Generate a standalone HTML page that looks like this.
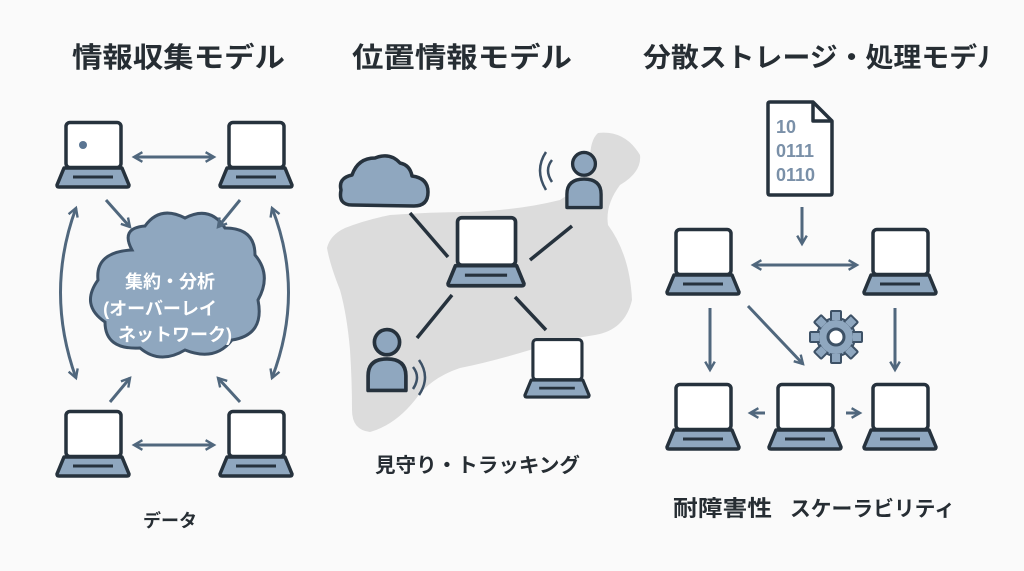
<!DOCTYPE html>
<html><head><meta charset="utf-8"><style>
html,body{margin:0;padding:0;background:#fafafa;}
svg{display:block;}
text{font-family:"Liberation Sans","Noto Sans CJK JP",sans-serif;}
</style></head><body>
<svg width="1024" height="571" viewBox="0 0 1024 571" xmlns="http://www.w3.org/2000/svg">
<defs>
<symbol id="lap" viewBox="0 0 74 68" overflow="visible">
<rect x="10" y="1.5" width="55" height="45" rx="4" fill="#fff" stroke="#26323d" stroke-width="3.5"/>
<path d="M8 47 L66 47 L73 64 Q73 66 71 66 L3 66 Q1 66 1 64 Z" fill="#8fa7bf" stroke="#26323d" stroke-width="3.5" stroke-linejoin="round"/>
<line x1="17" y1="56" x2="57" y2="56" stroke="#26323d" stroke-width="3"/>
</symbol>
<marker id="ah" viewBox="0 0 10 10" refX="8" refY="5" markerWidth="4" markerHeight="4" orient="auto-start-reverse">
<path d="M1 1 L8 5 L1 9" fill="none" stroke="#50677d" stroke-width="2"/>
</marker>
<symbol id="person" viewBox="0 0 40 62" overflow="visible">
<circle cx="20" cy="14" r="12" fill="#8fa7bf" stroke="#26323d" stroke-width="3.5"/>
<path d="M2 60 L2 46 Q2 30 20 30 Q38 30 38 46 L38 60 Z" fill="#8fa7bf" stroke="#26323d" stroke-width="3.5" stroke-linejoin="round"/>
</symbol>
</defs>
<rect width="1024" height="571" fill="#fafafa"/>

<!-- titles -->
<text x="72" y="67" font-size="28" font-weight="bold" fill="#262d33" textLength="213" lengthAdjust="spacingAndGlyphs">情報収集モデル</text>
<text x="352" y="67" font-size="28" font-weight="bold" fill="#262d33" textLength="220" lengthAdjust="spacingAndGlyphs">位置情報モデル</text>
<text x="643" y="67" font-size="27" font-weight="bold" fill="#262d33" textLength="362" lengthAdjust="spacingAndGlyphs">分散ストレージ・処理モデル</text>
<rect x="990" y="30" width="34" height="50" fill="#fafafa"/>

<!-- LEFT -->
<path d="M132 250 Q120 228 145 226 Q160 205 185 218 Q210 205 225 228 Q255 228 255 255 Q272 275 258 300 Q265 335 232 340 Q215 362 185 350 Q160 365 140 348 Q105 350 105 322 Q80 305 98 280 Q95 252 132 250 Z" fill="#8fa7bf" stroke="#3d5166" stroke-width="3"/>
<text x="170" y="288" font-size="18" font-weight="bold" fill="#fff" text-anchor="middle">集約・分析</text>
<text x="160" y="315" font-size="18" font-weight="bold" fill="#fff" text-anchor="middle">(オーバーレイ</text>
<text x="175" y="341" font-size="18" font-weight="bold" fill="#fff" text-anchor="middle">ネットワーク)</text>

<use href="#lap" x="56" y="121" width="74" height="68"/>
<circle cx="83" cy="145" r="4" fill="#5a7592"/>
<use href="#lap" x="219" y="121" width="74" height="68"/>
<use href="#lap" x="56" y="410" width="74" height="68"/>
<use href="#lap" x="219" y="410" width="74" height="68"/>
<g stroke="#50677d" stroke-width="3" fill="none" marker-end="url(#ah)" marker-start="url(#ah)">
<line x1="134" y1="157" x2="214" y2="157"/>
<line x1="134" y1="445" x2="214" y2="445"/>
<path d="M76 208 Q45 292 76 378"/>
<path d="M272 208 Q305 292 272 378"/>
</g>
<g stroke="#50677d" stroke-width="3" fill="none" marker-end="url(#ah)">
<line x1="106" y1="200" x2="130" y2="227"/>
<line x1="240" y1="200" x2="218" y2="227"/>
<line x1="110" y1="402" x2="130" y2="378"/>
<line x1="240" y1="402" x2="218" y2="378"/>
</g>
<text x="170" y="527" font-size="18" font-weight="bold" fill="#262d33" text-anchor="middle">データ</text>

<!-- MIDDLE -->
<path d="M598 133 Q625 130 640 155 Q642 172 620 185 Q605 205 608 225 Q630 255 632 300 Q625 330 595 335 Q560 340 530 350 Q490 362 460 368 Q430 378 415 400 Q395 425 370 432 Q352 430 352 410 Q352 380 350 350 Q347 315 340 290 Q330 265 327 248 Q330 235 345 228 Q365 220 390 215 Q430 212 470 212 Q520 210 560 200 Q585 185 590 160 Q590 140 598 133 Z" fill="#dcdcdc"/>
<path d="M352 205 Q338 205 341 190 Q338 178 352 175 Q358 158 375 158 Q390 152 400 163 Q410 165 412 176 Q428 178 428 192 Q428 206 414 206 Z" fill="#8fa7bf" stroke="#26323d" stroke-width="3.5" stroke-linejoin="round"/>
<g stroke="#26323d" stroke-width="3.5">
<line x1="410" y1="213" x2="448" y2="257"/>
<line x1="530" y1="260" x2="572" y2="226"/>
<line x1="452" y1="295" x2="417" y2="338"/>
<line x1="515" y1="297" x2="546" y2="330"/>
</g>
<use href="#lap" x="447" y="216" width="78" height="72"/>
<use href="#lap" x="524" y="338" width="66" height="61"/>
<use href="#person" x="565" y="150" width="38" height="60"/>
<use href="#person" x="366" y="327" width="42" height="66"/>
<g fill="none" stroke="#3d5166" stroke-width="2.5">
<path d="M552 160 Q544 170 552 182"/><path d="M546 152 Q534 170 546 190"/>
<path d="M413 367 Q421 377 413 389"/><path d="M419 360 Q431 377 419 395"/>
</g>
<text x="375" y="472" font-size="20" font-weight="bold" fill="#262d33" textLength="205" lengthAdjust="spacingAndGlyphs">見守り・トラッキング</text>

<!-- RIGHT -->
<path d="M770 102 L813 102 L832 121 L832 193 Q832 195 830 195 L770 195 Q768 195 768 193 L768 104 Q768 102 770 102 Z" fill="#fff" stroke="#26323d" stroke-width="3.5" stroke-linejoin="round"/>
<path d="M813 102 L813 121 L832 121" fill="none" stroke="#26323d" stroke-width="3.5" stroke-linejoin="round"/>
<text x="776" y="133" font-size="18" font-weight="bold" fill="#7a90a8">10</text>
<text x="776" y="157" font-size="18" font-weight="bold" fill="#7a90a8">0111</text>
<text x="776" y="181" font-size="18" font-weight="bold" fill="#7a90a8">0110</text>

<use href="#lap" x="666" y="228" width="74" height="68"/>
<use href="#lap" x="863" y="228" width="74" height="68"/>
<use href="#lap" x="666" y="383" width="74" height="68"/>
<use href="#lap" x="768" y="383" width="74" height="68"/>
<use href="#lap" x="863" y="383" width="74" height="68"/>
<g stroke="#50677d" stroke-width="3" fill="none" marker-end="url(#ah)">
<line x1="802" y1="207" x2="802" y2="244"/>
<line x1="710" y1="308" x2="710" y2="370"/>
<line x1="895" y1="308" x2="895" y2="370"/>
<line x1="748" y1="306" x2="803" y2="364"/>
<line x1="765" y1="413" x2="750" y2="413"/>
<line x1="846" y1="413" x2="860" y2="413"/>
</g>
<line x1="753" y1="265" x2="857" y2="265" stroke="#50677d" stroke-width="3" marker-end="url(#ah)" marker-start="url(#ah)"/>
<g transform="translate(836,337)">
<g fill="#8fa7bf" stroke="#3d5166" stroke-width="2">
<circle r="19"/>
<g id="teeth"><rect x="-5" y="-26" width="10" height="10" rx="1"/></g>
<use href="#teeth" transform="rotate(45)"/><use href="#teeth" transform="rotate(90)"/><use href="#teeth" transform="rotate(135)"/>
<use href="#teeth" transform="rotate(180)"/><use href="#teeth" transform="rotate(225)"/><use href="#teeth" transform="rotate(270)"/><use href="#teeth" transform="rotate(315)"/>
</g>
<circle r="17" fill="#8fa7bf"/>
<circle r="8" fill="#fff" stroke="#3d5166" stroke-width="3"/>
</g>
<text x="673" y="516" font-size="22" font-weight="bold" fill="#262d33" textLength="99" lengthAdjust="spacingAndGlyphs">耐障害性</text>
<text x="790" y="516" font-size="21" font-weight="bold" fill="#262d33" textLength="165" lengthAdjust="spacingAndGlyphs">スケーラビリティ</text>
</svg>
</body></html>
